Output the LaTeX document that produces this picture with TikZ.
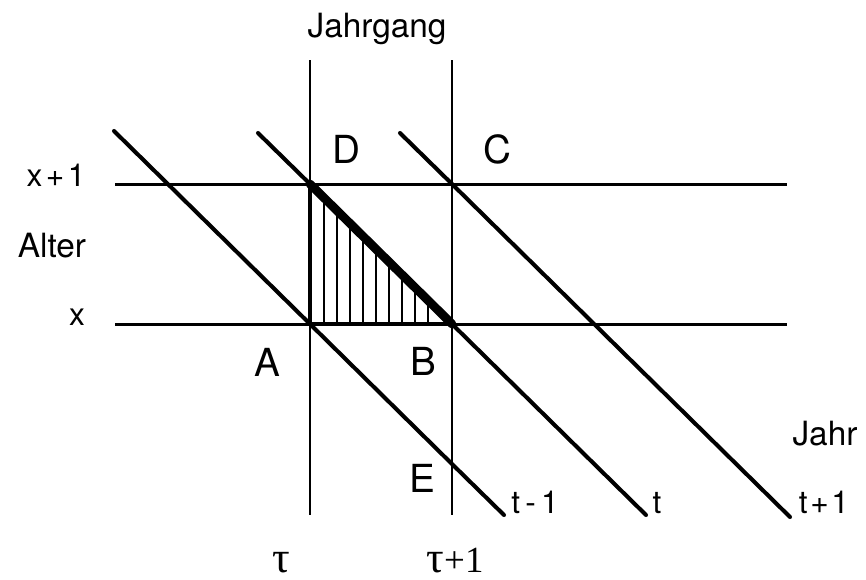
\documentclass[tikz,border=0pt]{standalone}
\usepackage{fontspec}
\setmainfont{TeX Gyre Heros}
\newfontfamily\serifgr{Liberation Serif}
\newcommand{\bigtau}{{\fontsize{25}{27}\selectfont τ}}

\begin{document}
\begin{tikzpicture}[
          x=0.02cm, y=-0.02cm,
          gridline/.style={draw=black, line width=1.7pt},
          diag/.style={draw=black, line width=2.3pt, line cap=round},
          triside/.style={draw=black, line width=2.8pt},
          hyp/.style={draw=black, line width=5pt, line cap=round},
          hatch/.style={draw=black, line width=1.1pt},
          corner/.style={font=\fontsize{22}{24}\selectfont, inner sep=0pt, anchor=base},
          lbl/.style={font=\fontsize{19}{21}\selectfont, inner sep=0pt, anchor=base},
          lblsmall/.style={font=\fontsize{18}{20}\selectfont, inner sep=0pt, anchor=base},
          taulbl/.style={font=\serifgr\fontsize{21}{24}\selectfont, inner sep=0pt, anchor=base}
        ]
        \useasboundingbox (0,0) rectangle (866,579);
        % corners of the Lexis square
        \coordinate (A) at (310,324);
        \coordinate (B) at (452,324);
        \coordinate (C) at (452,184);
        \coordinate (D) at (310,184);
        \coordinate (E) at (452,464);
        % free line ends
        \coordinate (tauTop) at (310,60);
        \coordinate (tauBot) at (310,515);
        \coordinate (tauoneTop) at (452,60);
        \coordinate (tauoneBot) at (452,515);
        \coordinate (xoneL) at (115,184);
        \coordinate (xoneR) at (787,184);
        \coordinate (xL) at (115,324);
        \coordinate (xR) at (787,324);
        \coordinate (tmTop) at (114,131);
        \coordinate (tmBot) at (504,515);
        \coordinate (tTop) at (258,133);
        \coordinate (tBot) at (646,515);
        \coordinate (tpTop) at (400,133);
        \coordinate (tpBot) at (790,517);

        % hatching
        \begin{scope}
          \clip (A) -- (D) -- (B) -- cycle;
          \foreach \i in {1,...,9}
            \draw[hatch] ({311+13*\i},324) -- ++(0,-150);
        \end{scope}

        \draw[gridline] (tauTop) -- (tauBot);
        \draw[gridline] (tauoneTop) -- (tauoneBot);
        \draw[gridline] (xoneL) -- (xoneR);
        \draw[gridline] (xL) -- (xR);
        \draw[diag] (tmTop) -- (A) -- (E) -- (tmBot);
        \draw[diag] (tTop) -- (D) -- (B) -- (tBot);
        \draw[diag] (tpTop) -- (C) -- (tpBot);
        \draw[triside] (D) -- (A) -- (B);
        \draw[hyp] (D) -- (B);

        \node[lbl] (jahrgang) at (377,37) {Jahrgang};
        \node[lbl] (alter) at (52,257) {Alter};
        \node[lbl] (jahr) at (825,445) {Jahr};
        \node[lblsmall] (xone) at (56,186) {x\kern2pt+\kern2pt1};
        \node[lblsmall] (xlbl) at (77,325) {x};
        \node[lblsmall] (tminus) at (535,513) {t\kern3pt-\kern3pt1};
        \node[lblsmall] (tlbl) at (657,513) {t};
        \node[lblsmall] (tplus) at (824,513) {t\kern1.5pt+\kern1.5pt1};
        \node[corner] (labA) at (267,376) {A};
        \node[corner] (labB) at (423,375) {B};
        \node[corner] (labC) at (497,163) {C};
        \node[corner] (labD) at (346,163) {D};
        \node[corner] (labE) at (422,492) {E};
        \node[taulbl] (tau) at (281,572) {\bigtau};
        \node[taulbl] (tauone) at (455,572) {\bigtau+1};
      \end{tikzpicture}
\end{document}
